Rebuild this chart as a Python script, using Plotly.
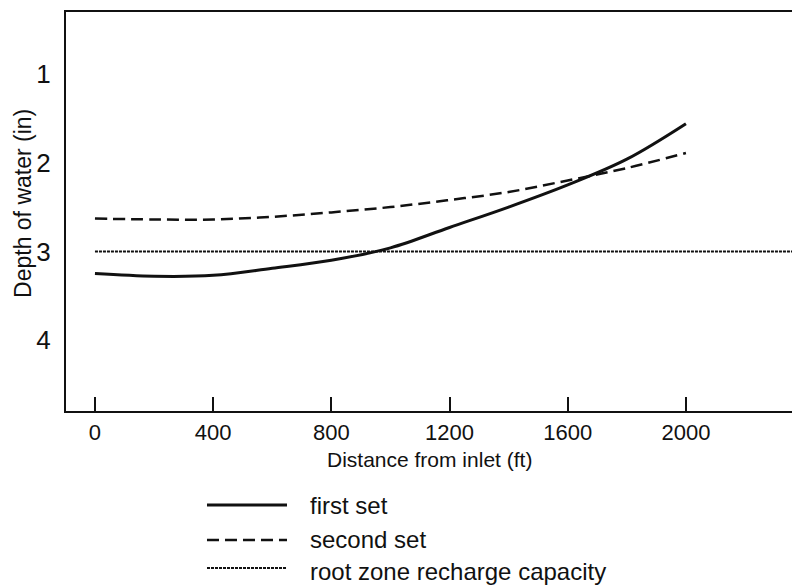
import plotly.graph_objects as go

FONT = "Liberation Sans, Arial, sans-serif"
INK = "#111111"

# data
distance_ft = [0, 200, 400, 600, 800, 1000, 1200, 1400, 1600, 1800, 2000]
first_set = [3.25, 3.28, 3.27, 3.19, 3.10, 2.96, 2.73, 2.50, 2.25, 1.96, 1.56]
second_set = [2.63, 2.64, 2.64, 2.61, 2.56, 2.50, 2.42, 2.33, 2.20, 2.06, 1.89]
recharge_x = [0, 2360]
recharge_depth = [3.0, 3.0]

x_ticks = [0, 400, 800, 1200, 1600, 2000]
y_ticks = [1, 2, 3, 4]

SOLID = dict(color=INK, width=3)
DASHED = dict(color=INK, width=2.5, dash="12px,6px")
DOTTED = dict(color=INK, width=2, dash="3px,1px")

fig = go.Figure()
fig.add_trace(go.Scatter(x=distance_ft, y=first_set, name="first set",
                         mode="lines", line=dict(shape="spline", **SOLID)))
fig.add_trace(go.Scatter(x=distance_ft, y=second_set, name="second set",
                         mode="lines", line=dict(shape="spline", **DASHED)))
fig.add_trace(go.Scatter(x=recharge_x, y=recharge_depth,
                         name="root zone recharge capacity",
                         mode="lines", line=DOTTED))

fig.update_layout(
    width=792, height=588,
    paper_bgcolor="white", plot_bgcolor="white",
    margin=dict(l=66, r=0, t=12, b=177),
    showlegend=False,
    font=dict(family=FONT, color=INK),
)
fig.update_xaxes(
    range=[-98, 2359], tickvals=x_ticks, showgrid=False, zeroline=False,
    showline=True, linecolor=INK, linewidth=2, mirror=True,
    ticks="inside", ticklen=14, tickwidth=1.5, tickcolor=INK,
    tickfont=dict(size=22), ticklabelstandoff=1,
)
fig.update_yaxes(
    range=[4.80, 0.30], tickvals=y_ticks, showgrid=False, zeroline=False,
    showline=True, linecolor=INK, linewidth=2,
    ticks="", tickfont=dict(size=26), ticklabelstandoff=8,
)

# axis titles
fig.add_annotation(text="Depth of water (in)", textangle=-90, showarrow=False,
                   xref="paper", yref="paper", x=-0.0592, y=0.519,
                   xanchor="center", yanchor="middle", font=dict(size=23))
fig.add_annotation(text="Distance from inlet (ft)", showarrow=False,
                   xref="paper", yref="paper", x=0.501, y=-0.1228,
                   xanchor="center", yanchor="middle", font=dict(size=21))

# legend drawn below the plot
legend_rows = [(fig.data[0].name, SOLID, -0.2356, -0.2356),
               (fig.data[1].name, DASHED, -0.3233, -0.3233),
               (fig.data[2].name, DOTTED, -0.3935, -0.4035)]
for name, style, y_line, y_text in legend_rows:
    fig.add_shape(type="line", xref="paper", yref="paper",
                  x0=0.1942, x1=0.3044, y0=y_line, y1=y_line, line=style)
    fig.add_annotation(text=name, showarrow=False, xref="paper", yref="paper",
                       x=0.3333, y=y_text, xanchor="left", yanchor="middle",
                       font=dict(size=24))

fig.write_html("out.html", config={"displayModeBar": False},
               post_script="document.body.style.margin = '0';")
